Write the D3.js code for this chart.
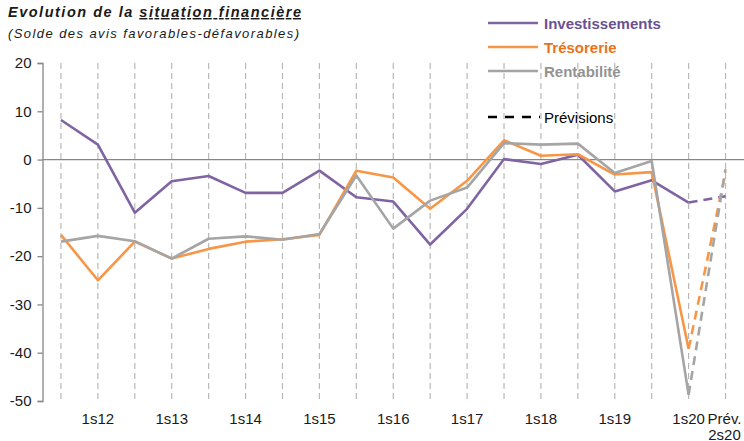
<!DOCTYPE html>
<html><head><meta charset="utf-8">
<script src="https://cdn.jsdelivr.net/npm/d3@7"></script>
<style>
html,body{margin:0;padding:0;background:#fff;}
svg{display:block;font-family:"Liberation Sans",Arial,sans-serif;}
</style></head>
<body><svg id="c" width="744" height="441"></svg>
<script>
const categories = ["2s11","1s12","2s12","1s13","2s13","1s14","2s14","1s15","2s15","1s16","2s16","1s17","2s17","1s18","2s18","1s19","2s19","1s20","Prév. 2s20"];
const shownLabels = ["1s12","1s13","1s14","1s15","1s16","1s17","1s18","1s19","1s20","Prév. 2s20"];
const investissements = [8.2,3.1,-11.0,-4.5,-3.4,-6.9,-6.9,-2.3,-7.8,-8.7,-17.6,-10.2,0.1,-0.9,1.0,-6.6,-4.3,-8.9,-7.6];
const tresorerie = [-15.6,-25.0,-17.0,-20.5,-18.5,-17.0,-16.5,-15.6,-2.3,-3.7,-10.2,-4.4,4.0,0.8,1.1,-3.1,-2.6,-39.2,-2.6];
const rentabilite = [-17.0,-15.8,-16.9,-20.5,-16.4,-15.9,-16.6,-15.4,-3.3,-14.3,-8.5,-5.8,3.4,3.1,3.3,-2.8,-0.3,-48.7,-2.0];
const yTicks = [20,10,0,-10,-20,-30,-40,-50];
const seriesNames = ["Investissements","Trésorerie","Rentabilité"];
const forecastName = "Prévisions";

const lineColors = ["#8064A2","#F79646","#A5A5A5"];
const textColors = ["#6B5193","#E8731C","#939393"];

const svg = d3.select("#c");
const x = d3.scalePoint().domain(categories).range([42.5, 744]).padding(0.5);
const y = d3.scaleLinear().domain([-50, 20]).range([401, 63]);

// Title
svg.append("text").attr("x", 8).attr("y", 17)
  .attr("font-size", 14.5).attr("font-weight", "bold").attr("font-style", "italic")
  .attr("fill", "#1a1a1a")
  .attr("textLength", 293).attr("lengthAdjust", "spacing")
  .html('Evolution de la <tspan text-decoration="underline">situation financière</tspan>');
svg.append("text").attr("x", 8).attr("y", 38)
  .attr("font-size", 13).attr("font-style", "italic").attr("fill", "#1a1a1a")
  .attr("textLength", 291).attr("lengthAdjust", "spacing")
  .text("(Solde des avis favorables-défavorables)");

// vertical dashed gridlines
svg.append("g").selectAll("line").data(categories).join("line")
  .attr("x1", d => x(d)).attr("x2", d => x(d))
  .attr("y1", y(20)).attr("y2", y(-50))
  .attr("stroke", "#B8B8B8").attr("stroke-width", 1.2)
  .attr("stroke-dasharray", "6,4");

// zero line
svg.append("line").attr("x1", 42.5).attr("x2", 744).attr("y1", y(0)).attr("y2", y(0))
  .attr("stroke", "#868686").attr("stroke-width", 1.3);

// y axis
const yAxis = svg.append("g").attr("transform", "translate(42.5,0)")
  .call(d3.axisLeft(y).tickValues(yTicks).tickSize(5).tickPadding(6).tickFormat(d3.format("d")));
yAxis.select(".domain").attr("stroke", "#868686").attr("stroke-width", 1.3);
yAxis.selectAll(".tick line").attr("stroke", "#868686").attr("stroke-width", 1.3);
yAxis.selectAll(".tick text").attr("font-size", 15).attr("fill", "#1a1a1a")
  .attr("font-family", "Liberation Sans, Arial, sans-serif")
  .text(d => d < 0 ? "-" + Math.abs(d) : d);

// x labels
const xl = svg.append("g").selectAll("text").data(shownLabels).join("text")
  .attr("x", d => x(d)).attr("y", 424).attr("text-anchor", "middle")
  .attr("font-size", 15).attr("fill", "#1a1a1a");
xl.each(function(d){
  const parts = d.split(" ");
  const t = d3.select(this);
  if (parts.length === 1) { t.text(d); }
  else {
    t.attr("x", null);
    t.append("tspan").attr("x", x(d) - 1).attr("dy", 0).text(parts[0]);
    t.append("tspan").attr("x", x(d) - 1).attr("dy", 15.5).text(parts[1]);
  }
});

// lines
const seriesData = [investissements, tresorerie, rentabilite];
const nHist = categories.length - 1;
seriesData.forEach((vals, s) => {
  const pts = vals.map((v, i) => ({v, i}));
  const lg = d3.line().x(d => x(categories[d.i])).y(d => y(d.v));
  svg.append("path").datum(pts.slice(0, nHist))
    .attr("d", lg).attr("fill", "none").attr("stroke", lineColors[s])
    .attr("stroke-width", 2.6).attr("stroke-linejoin", "round");
  svg.append("path").datum(pts.slice(nHist - 1))
    .attr("d", lg).attr("fill", "none").attr("stroke", lineColors[s])
    .attr("stroke-width", 2.6).attr("stroke-dasharray", "9,6");
});

// legend
const legY = [23, 47, 71];
seriesNames.forEach((n, i) => {
  svg.append("line").attr("x1", 488).attr("x2", 538).attr("y1", legY[i]).attr("y2", legY[i])
    .attr("stroke", lineColors[i]).attr("stroke-width", 2.6);
  svg.append("text").attr("x", 544).attr("y", legY[i] + 5.5)
    .attr("font-size", 15).attr("font-weight", "bold").attr("fill", textColors[i]).text(n);
});
svg.append("line").attr("x1", 488).attr("x2", 540).attr("y1", 117).attr("y2", 117)
  .attr("stroke", "#000").attr("stroke-width", 2.6).attr("stroke-dasharray", "9,8");
svg.append("text").attr("x", 544).attr("y", 122.5)
  .attr("font-size", 15).attr("fill", "#000").text(forecastName);
</script></body></html>
